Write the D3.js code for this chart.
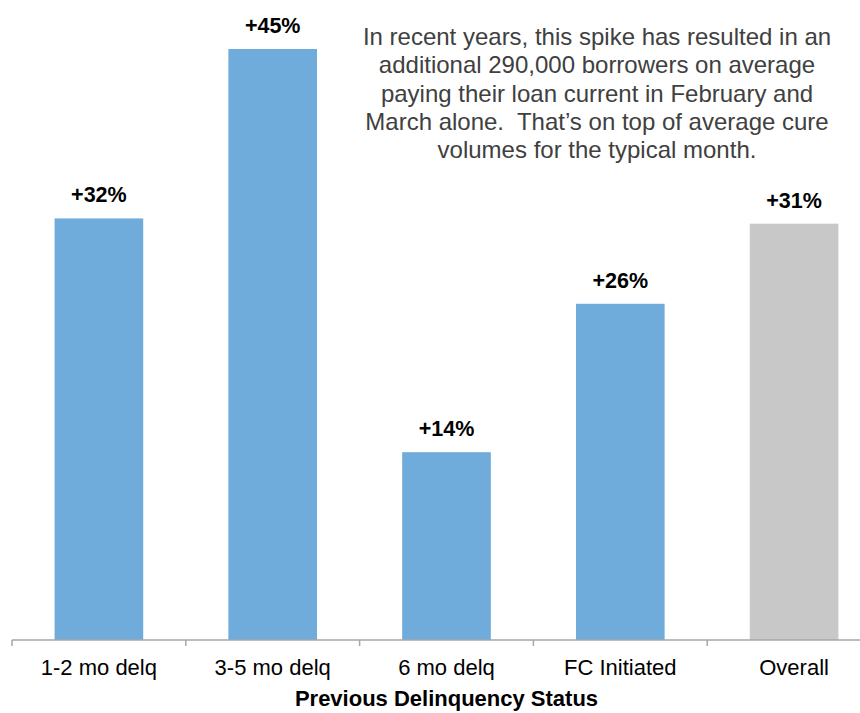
<!doctype html>
<html lang="en">
<head>
    <meta http-equiv="content-type" content="text/html; charset=utf-8" />
    <title>Cure rate spike by previous delinquency status</title>
    <style>
        body { margin: 0; background: #fff; }
        svg { display: block; font-family: "Liberation Sans", Arial, sans-serif; }
        .note { white-space: pre; }
    </style>
</head>
<body>
    <svg id="chart"></svg>

    <script src="https://cdn.jsdelivr.net/npm/d3@7/dist/d3.min.js"></script>

    <script>
        const categories = ["1-2 mo delq", "3-5 mo delq", "6 mo delq", "FC Initiated", "Overall"];
        const values = [32.1, 45.0, 14.3, 25.6, 31.7]; // bar heights
        const labels = ["+32%", "+45%", "+14%", "+26%", "+31%"];
        const barColors = ["#6fabdb", "#6fabdb", "#6fabdb", "#6fabdb", "#c8c8c8"];
        const xTitle = "Previous Delinquency Status";
        const note = [
            "In recent years, this spike has resulted in an",
            "additional 290,000 borrowers on average",
            "paying their loan current in February and",
            "March alone.  That\u2019s on top of average cure",
            "volumes for the typical month."
        ];

        const width = 860, height = 713;
        const baseY = 640;

        const svg = d3.select("#chart")
            .attr("width", width)
            .attr("height", height);

        const x = d3.scaleBand()
            .domain(categories)
            .range([12, 881])
            .paddingInner(0.49)
            .paddingOuter(0.245);

        const y = d3.scaleLinear()
            .domain([0, 45])
            .range([baseY, 49]);

        const data = categories.map((c, i) => ({cat: c, value: values[i], label: labels[i], color: barColors[i]}));

        // bars
        svg.append("g")
            .selectAll("rect")
            .data(data)
            .join("rect")
            .attr("x", d => x(d.cat))
            .attr("y", d => y(d.value))
            .attr("width", x.bandwidth())
            .attr("height", d => baseY - y(d.value))
            .attr("fill", d => d.color);

        // value labels
        svg.append("g")
            .selectAll("text")
            .data(data)
            .join("text")
            .attr("x", d => x(d.cat) + x.bandwidth() / 2)
            .attr("y", d => y(d.value) - 16)
            .attr("text-anchor", "middle")
            .attr("font-size", 21.5)
            .attr("font-weight", "bold")
            .attr("fill", "#000")
            .text(d => d.label);

        // x axis: ticks sit between the categories
        const axis = svg.append("g")
            .attr("transform", `translate(0,${baseY})`);

        axis.append("line")
            .attr("x1", 12).attr("x2", 881)
            .attr("stroke", "#a6a6a6")
            .attr("stroke-width", 1.5);

        const step = x.step();
        axis.selectAll("line.tick")
            .data(d3.range(categories.length + 1))
            .join("line")
            .attr("class", "tick")
            .attr("x1", i => 12 + i * step).attr("x2", i => 12 + i * step)
            .attr("y1", 0).attr("y2", 6)
            .attr("stroke", "#a6a6a6")
            .attr("stroke-width", 1.5);

        axis.selectAll("text")
            .data(categories)
            .join("text")
            .attr("x", d => x(d) + x.bandwidth() / 2)
            .attr("y", 35)
            .attr("text-anchor", "middle")
            .attr("font-size", 22)
            .attr("fill", "#000")
            .text(d => d);

        svg.append("text")
            .attr("x", (12 + 881) / 2)
            .attr("y", 706)
            .attr("text-anchor", "middle")
            .attr("font-size", 22)
            .attr("font-weight", "bold")
            .attr("fill", "#000")
            .text(xTitle);

        // annotation
        svg.append("text")
            .attr("class", "note")
            .attr("x", 597)
            .attr("y", 45)
            .attr("text-anchor", "middle")
            .attr("font-size", 24)
            .attr("fill", "#404040")
            .selectAll("tspan")
            .data(note)
            .join("tspan")
            .attr("x", 597)
            .attr("dy", (d, i) => i === 0 ? 0 : 28.3)
            .text(d => d);
    </script>
</body>
</html>
